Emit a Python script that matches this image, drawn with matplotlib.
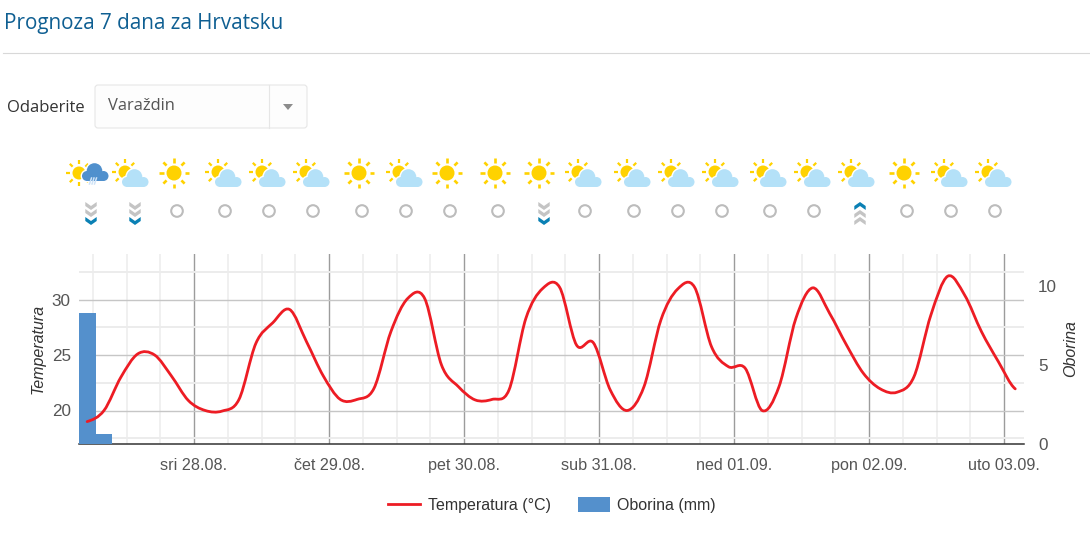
import matplotlib
matplotlib.use("Agg")
import matplotlib.pyplot as plt
import matplotlib.dates as mdates
import numpy as np
import pandas as pd
from matplotlib.lines import Line2D
from matplotlib.patches import Circle, FancyBboxPatch, PathPatch, Polygon, Rectangle
from matplotlib.path import Path

W, H = 1090, 552

times = pd.date_range("2019-08-27 05:00", periods=56, freq="3h")
temperature = [19.0, 20.0, 23.0, 25.1, 25.0, 23.1, 20.9, 20.0, 19.95, 21.0,
               26.05, 27.9, 29.1, 26.2, 23.1, 21.0, 21.0, 22.0, 27.1, 30.1,
               30.1, 24.1, 22.15, 20.95, 21.0, 21.85, 28.3, 31.0, 31.1, 25.9,
               26.1, 21.85, 20.0, 22.15, 28.15, 30.95, 31.1, 25.75, 23.95, 23.8,
               20.0, 22.15, 28.3, 31.05, 28.75, 25.9, 23.35, 21.95, 21.65, 23.05,
               28.6, 32.1, 30.4, 27.1, 24.4, 21.95]
rain = [8.3, 0.65] + [0.0] * 54

days = pd.date_range("2019-08-28", periods=7, freq="D")
day_labels = ["sri 28.08.", "čet 29.08.", "pet 30.08.", "sub 31.08.",
              "ned 01.09.", "pon 02.09.", "uto 03.09."]

# ikone: vrsta vremena, x ikone, strelica ispod
icon_kinds = ["rain", "partly", "sun", "partly", "partly", "partly", "sun",
              "partly", "sun", "sun", "sun", "partly", "partly", "partly",
              "partly", "partly", "partly", "partly", "sun", "partly", "partly"]
icon_x = [88, 132, 174, 225, 269, 313, 359, 406, 447, 495, 539, 585, 634, 678,
          722, 770, 814, 858, 904, 951, 995]
trends = ["down", "down", "", "", "", "", "", "", "", "", "down", "", "", "",
          "", "", "", "up", "", "", ""]
trend_x = [91, 135, 177, 225, 269, 313, 362, 406, 450, 498, 544, 585, 634, 678,
           722, 770, 814, 860, 907, 951, 995]

YELLOW = "#ffd200"
CLOUD = "#b4e1f8"
RAIN_CLOUD = "#5090cd"
GREY = "#c4c4c4"
BLUE = "#0a80b4"
TEXT = "#555555"


def px_axes(fig, left, right, top, bottom):
    return fig.add_axes([left / W, 1 - bottom / H, (right - left) / W, (bottom - top) / H])


def spline_path(x, y):
    # catmull-rom, vrhovi mogu biti i izmedu tocaka kao na originalu
    verts = [(x[0], y[0])]
    codes = [Path.MOVETO]
    n = len(x)
    for i in range(n - 1):
        y0 = y[max(i - 1, 0)]
        y3 = y[min(i + 2, n - 1)]
        dx = (x[i + 1] - x[i]) / 3
        verts.append((x[i] + dx, y[i] + (y[i + 1] - y0) / 6))
        verts.append((x[i + 1] - dx, y[i + 1] - (y3 - y[i]) / 6))
        verts.append((x[i + 1], y[i + 1]))
        codes += [Path.CURVE4] * 3
    return Path(verts, codes)


def draw_sun(ax, cx, cy, r, r1, r2, lw=1.9):
    for a in np.deg2rad(np.arange(0, 360, 45)):
        ax.plot([cx + r1 * np.cos(a), cx + r2 * np.cos(a)],
                [cy + r1 * np.sin(a), cy + r2 * np.sin(a)],
                color=YELLOW, lw=lw, solid_capstyle="butt", zorder=3)
    ax.add_patch(Circle((cx, cy), r, fc=YELLOW, ec="none", zorder=3))


def draw_cloud(ax, cx, cy, color):
    parts = [((cx - 0.5, cy - 3), 7.8),
             ((cx - 8, cy + 2), 5.0),
             ((cx + 8.5, cy + 2), 5.0)]
    rect = ((cx - 8, cy - 1), 16.5, 8)
    # bijeli rub oko oblaka
    for c, r in parts:
        ax.add_patch(Circle(c, r + 1.4, fc="white", ec="none", zorder=4))
    ax.add_patch(Rectangle(rect[0], rect[1], rect[2] + 1.4, fc="white", ec="none", zorder=4))
    for c, r in parts:
        ax.add_patch(Circle(c, r, fc=color, ec="none", zorder=5))
    ax.add_patch(Rectangle(rect[0], rect[1], rect[2], fc=color, ec="none", zorder=5))


def draw_icon(ax, kind, x):
    if kind == "sun":
        draw_sun(ax, x, 173, 7.5, 10.5, 15)
    elif kind == "partly":
        draw_sun(ax, x - 7, 172, 6.5, 9, 13, lw=1.6)
        draw_cloud(ax, x + 3, 180, CLOUD)
    else:
        draw_sun(ax, x - 9, 173, 6.5, 9, 13, lw=1.6)
        draw_cloud(ax, x + 7, 174, RAIN_CLOUD)
        for dx in (-2.5, 0, 2.5):
            ax.plot([x + 4 + dx, x + 6 + dx], [184, 178], color="#cfe3f7", lw=1.1, zorder=6)


def draw_chevron(ax, x, y, color, up=False):
    w, h, t = 5.7, 4.0, 4.0
    d = -1 if up else 1
    pts = [(x - w, y - d * h), (x, y - d * (h - t)), (x + w, y - d * h),
           (x + w, y - d * (h - t)), (x, y + d * t), (x - w, y - d * (h - t))]
    ax.add_patch(Polygon(pts, closed=True, fc=color, ec="none"))


def draw_trend(ax, kind, x):
    if kind == "":
        ax.add_patch(Circle((x, 211), 5.8, fc="none", ec="#bcbcbc", lw=1.5))
    elif kind == "down":
        draw_chevron(ax, x, 206, GREY)
        draw_chevron(ax, x, 213, GREY)
        draw_chevron(ax, x, 221, BLUE)
    else:
        draw_chevron(ax, x, 206, BLUE, up=True)
        draw_chevron(ax, x, 214, GREY, up=True)
        draw_chevron(ax, x, 221, GREY, up=True)


plt.rcParams["font.family"] = ["Liberation Sans", "DejaVu Sans"]
fig = plt.figure(figsize=(W / 100, H / 100), dpi=100, facecolor="white")

# glavni dio: temperatura i mreza
x_num = mdates.date2num(times)
hour = 1 / 24
xlim = (mdates.date2num(days[0]) - 115 / 135, mdates.date2num(days[0]) + 830 / 135)
temp_lim = (20 - 33.5 / 11.1, 30 + 45.5 / 11.1)

ax = px_axes(fig, 79, 1024, 254, 444)
ax.set_ylim(temp_lim)
for s in ("top", "left", "right"):
    ax.spines[s].set_visible(False)
ax.spines["bottom"].set_color("#333333")
ax.spines["bottom"].set_linewidth(1.1)
ax.set_yticks([20, 25, 30])
ax.set_yticks([17.5, 22.5, 27.5, 32.5], minor=True)
ax.set_xticks(mdates.date2num(days))
ax.set_xticklabels(day_labels, va="baseline")
minor_x = pd.date_range("2019-08-27 06:00", "2019-09-03 00:00", freq="6h")
ax.set_xticks(mdates.date2num(minor_x), minor=True)
ax.set_xlim(xlim)
ax.grid(True, which="major", axis="y", color="#c6c6c6", lw=1.0)
ax.grid(True, which="minor", axis="y", color="#ececec", lw=1.4)
ax.grid(True, which="major", axis="x", color="#9c9c9c", lw=1.0)
ax.grid(True, which="minor", axis="x", color="#f0f0f0", lw=1.4)
ax.set_axisbelow(True)
ax.tick_params(axis="both", which="both", length=0)
ax.tick_params(axis="x", labelsize=11.6, labelcolor=TEXT, pad=18.5)
ax.tick_params(axis="y", labelsize=12.3, labelcolor=TEXT, pad=6)
ax.set_ylabel("Temperatura", fontsize=11.5, style="italic", color="#333333")
ax.yaxis.set_label_coords(-33 / 945, 0.5)

# oborina
ax_rain = ax.twinx()
ax_rain.set_zorder(ax.get_zorder() + 1)
ax_rain.patch.set_visible(False)
ax_rain.bar(x_num, rain, width=3 * hour, color="#5490cc", edgecolor="none")
ax_rain.set_xlim(xlim)
ax_rain.set_ylim(0, 190 / 15.8)
ax_rain.set_yticks([0, 5, 10])
for s in ax_rain.spines.values():
    s.set_visible(False)
ax_rain.tick_params(axis="y", length=0, labelsize=12.3, labelcolor=TEXT, pad=10)
ax_rain.set_ylabel("Oborina", fontsize=11.5, style="italic", color="#333333", rotation=90)
ax_rain.yaxis.set_label_coords(1 + 39 / 945, 0.5)

# temperatura iznad stupaca
ax_line = ax.twinx()
ax_line.set_zorder(ax_rain.get_zorder() + 1)
ax_line.set_ylim(temp_lim)
ax_line.axis("off")
ax_line.add_patch(PathPatch(spline_path(x_num, temperature), fc="none", ec="#ed1c24",
                            lw=2.0, capstyle="round", joinstyle="round"))

handles = [Line2D([0], [0], color="#ed1c24", lw=2.0),
           Rectangle((0, 0), 1, 1, fc="#5490cc", ec="none")]
fig.legend(handles, ["Temperatura (°C)", "Oborina (mm)"], ncols=2, frameon=False,
           loc="center", bbox_to_anchor=(552 / W, 1 - 505 / H), fontsize=11.5,
           handlelength=2.0, handleheight=1.1, handletextpad=0.45, columnspacing=1.7,
           labelcolor="#333333")

# zaglavlje, izbornik i ikone u pikselima
top = fig.add_axes([0, 0, 1, 1], zorder=5)
top.set_xlim(0, W)
top.set_ylim(H, 0)
top.axis("off")
top.patch.set_visible(False)

top.text(4, 23, "Prognoza 7 dana za Hrvatsku", family="Open Sans", fontsize=14.9,
         color="#0f5f92", va="center")
top.plot([3, 1090], [53, 53], color="#d8d8d8", lw=0.8)
top.text(7, 108, "Odaberite", family="Open Sans", fontsize=12, color="#333333", va="center")
top.add_patch(FancyBboxPatch((95, 85), 212, 43, boxstyle="round,pad=0,rounding_size=3",
                             fc="#fdfdfd", ec="#e6e6e6", lw=0.8))
top.plot([269, 269], [85, 128], color="#e6e6e6", lw=0.8)
top.text(108, 106.5, "Varaždin", family="Open Sans", fontsize=11.9, color="#555555", va="center")
top.add_patch(Polygon([(283, 104), (293, 104), (288, 110)], closed=True, fc="#8c8c8c", ec="none"))

for kind, x in zip(icon_kinds, icon_x):
    draw_icon(top, kind, x)
for kind, x in zip(trends, trend_x):
    draw_trend(top, kind, x)

fig.savefig("out.png", dpi=100)
